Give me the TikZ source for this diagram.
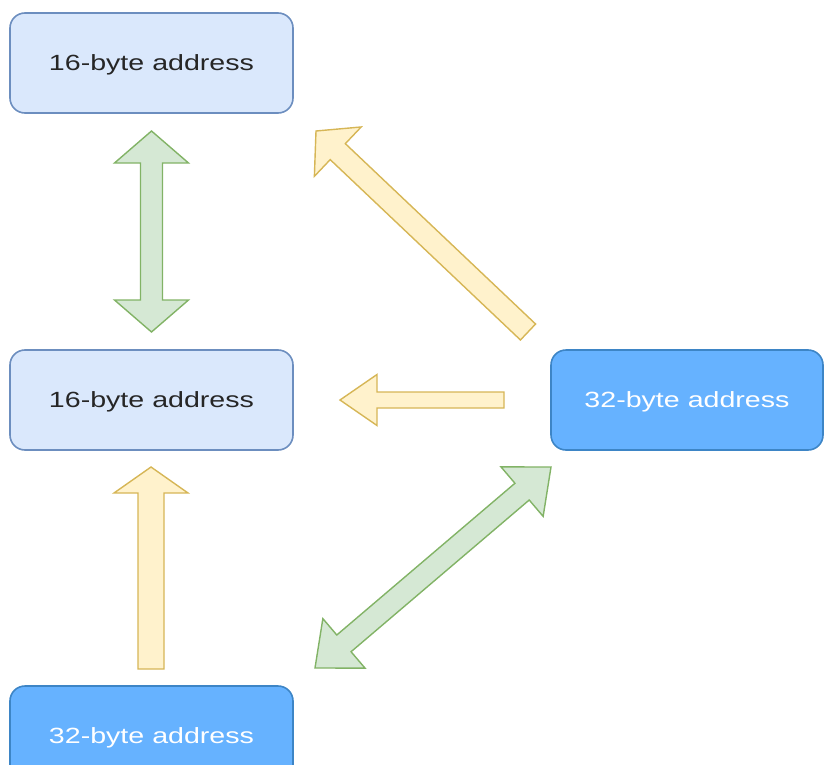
\documentclass[tikz,border=0pt]{standalone}
\usepackage{fontspec}
\newfontfamily\boxfont[FakeStretch=1.3]{Liberation Sans}
\usetikzlibrary{calc}

\definecolor{lightfill}{HTML}{DAE8FC}
\definecolor{lightline}{HTML}{6C8EBF}
\definecolor{darkfill}{HTML}{66B2FF}
\definecolor{darkline}{HTML}{3D85C6}
\definecolor{greenfill}{HTML}{D5E8D4}
\definecolor{greenline}{HTML}{82B366}
\definecolor{yellowfill}{HTML}{FFF2CC}
\definecolor{yellowline}{HTML}{D6B656}

\tikzset{
    addr/.style={draw, rounded corners=7.5pt, line width=0.8pt, minimum width=141.5pt, minimum height=50pt, inner sep=0pt, text depth=0pt, font=\boxfont\fontsize{11}{13}\selectfont},
    shortaddr/.style={addr, draw=lightline, fill=lightfill, text=black!85},
    longaddr/.style={addr, draw=darkline, fill=darkfill, text=white},
    greenarrow/.style={draw=greenline, fill=greenfill, line width=0.7pt},
    yellowarrow/.style={draw=yellowline, fill=yellowfill, line width=0.7pt},
}

% #1 style, #2 tail, #3 tip, #4 half shaft, #5 half head, #6 head length
\newcommand{\singlearrow}[6]{%
    \coordinate (hb) at ($(#3)!#6!(#2)$);
    \draw[#1] ($(#2)!#4!90:(#3)$) -- ($(hb)!#4!90:(#3)$) -- ($(hb)!#5!90:(#3)$) -- (#3)
        -- ($(hb)!#5!-90:(#3)$) -- ($(hb)!#4!-90:(#3)$) -- ($(#2)!#4!-90:(#3)$) -- cycle;
}
\newcommand{\doublearrow}[6]{%
    \coordinate (hba) at ($(#2)!#6!(#3)$);
    \coordinate (hbb) at ($(#3)!#6!(#2)$);
    \draw[#1] (#2) -- ($(hba)!#5!90:(#3)$) -- ($(hba)!#4!90:(#3)$) -- ($(hbb)!#4!90:(#3)$)
        -- ($(hbb)!#5!90:(#3)$) -- (#3) -- ($(hbb)!#5!-90:(#3)$) -- ($(hbb)!#4!-90:(#3)$)
        -- ($(hba)!#4!-90:(#3)$) -- ($(hba)!#5!-90:(#3)$) -- cycle;
}

\begin{document}
\begin{tikzpicture}[x=0.5pt, y=-0.5pt]
    \useasboundingbox (0,0) rectangle (824,765);
    \clip (0,0) rectangle (824,765);

    \node[shortaddr] (top16) at (151.5,63) {16-byte address};
    \node[shortaddr] (mid16) at (151.5,400) {16-byte address};
    \node[longaddr, minimum width=136pt] (side32) at (687,400) {32-byte address};
    \node[longaddr] (low32) at (151.5,736) {32-byte address};

    \coordinate (gva) at (151.5,131);
    \coordinate (gvb) at (151.5,332);
    \coordinate (yda) at (528,332);
    \coordinate (ydb) at (316,131);
    \coordinate (yha) at (504,400);
    \coordinate (yhb) at (340,400);
    \coordinate (yva) at (151,669);
    \coordinate (yvb) at (151,467);
    \coordinate (gda) at (315,668);
    \coordinate (gdb) at (551,467);

    \doublearrow{greenarrow}{gva}{gvb}{5.5pt}{18.5pt}{16pt}
    \singlearrow{yellowarrow}{yda}{ydb}{5.5pt}{17pt}{15pt}
    \singlearrow{yellowarrow}{yha}{yhb}{4pt}{12.75pt}{18.5pt}
    \singlearrow{yellowarrow}{yva}{yvb}{6.5pt}{18.5pt}{13pt}
    \doublearrow{greenarrow}{gda}{gdb}{5.5pt}{16.25pt}{19pt}
\end{tikzpicture}
\end{document}
